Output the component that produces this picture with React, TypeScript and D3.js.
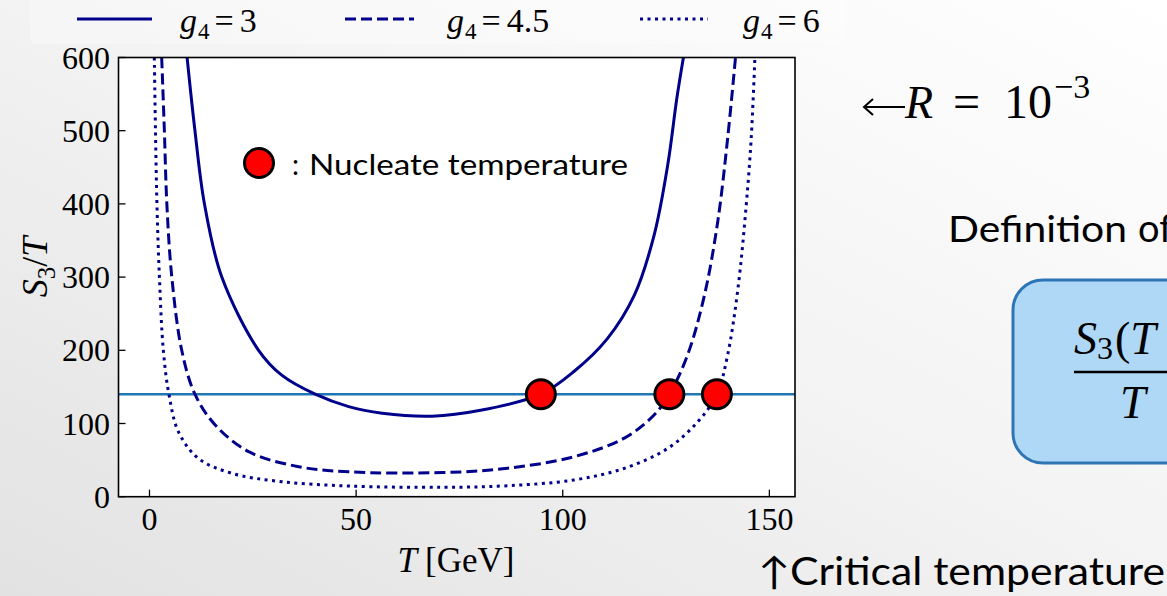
import React from "react";
import * as d3 from "d3";

// S3/T versus temperature for three couplings g4
const T_G3 = [9.1, 11.0, 13.3, 17.5, 26.4, 32.0, 40.1, 48.2, 56.3, 68.4, 80.1, 94.7, 102.7, 110.8, 117.3, 122.1, 125.4, 127.6, 129.2];
const S_G3 = [600, 500, 400, 300, 200, 166, 140, 123, 114, 110, 118, 140, 171, 216, 275, 357, 453, 544, 600];

const T_G45 = [2.95, 3.6, 4.2, 5.4, 7.8, 11.0, 15.9, 24.0, 36.1, 48.2, 71.0, 86.6, 102.7, 114.9, 122.1, 125.8, 130.2, 134.3, 137.5, 139.9, 141.8];
const S_G45 = [600, 500, 400, 300, 200, 140, 98, 61.5, 41, 34, 33, 38.8, 54.6, 80, 111.6, 140, 193.6, 275.5, 375.7, 489.6, 600];

const T_G6 = [1.17, 1.45, 1.8, 2.4, 3.35, 4.7, 7.0, 11.8, 19.9, 32.0, 48.2, 71.0, 86.6, 102.7, 114.9, 125.4, 132.7, 137.3, 139.9, 142.4, 144.4, 145.6, 146.5];
const S_G6 = [600, 500, 400, 300, 200, 140, 88.8, 52.4, 32, 20.5, 14.6, 12.8, 15, 22.8, 38.8, 66, 102.5, 140, 193.6, 284.7, 398.5, 489.6, 600];

// nucleation threshold and the temperatures where each curve meets it
const THRESHOLD = 140;
const NUCLEATE_T = [94.7, 125.8, 137.3];

const X_TICKS = [0, 50, 100, 150];
const Y_TICKS = [0, 100, 200, 300, 400, 500, 600];
const LEGEND_LABELS = ["3", "4.5", "6"];

const W = 1167;
const H = 596;
const plot = { left: 118.5, right: 795, top: 57.5, bottom: 496.7 };

const x = d3.scaleLinear().domain([-7.5, 156.2]).range([plot.left, plot.right]);
const y = d3.scaleLinear().domain([0, 600]).range([plot.bottom, plot.top]);

const NAVY = "#00008b";
const serif = "'Liberation Serif', 'DejaVu Serif', serif";
const sans = "Lato, 'Open Sans', sans-serif";

const series = [
  { t: T_G3, s: S_G3, dash: undefined as string | undefined },
  { t: T_G45, s: S_G45, dash: "11 5" },
  { t: T_G6, s: S_G6, dash: "3 4.5" },
];

const line = d3
  .line<[number, number]>()
  .x((d) => x(d[0]))
  .y((d) => y(d[1]))
  .curve(d3.curveCatmullRom.alpha(0.5));

const legendX = [
  { x0: 77, x1: 152, tx: 180 },
  { x0: 345, x1: 414, tx: 447 },
  { x0: 640, x1: 708, tx: 743 },
];

export default function App() {
  return (
    <svg
      width={W}
      height={H}
      style={{ position: "absolute", left: 0, top: 0, display: "block" }}
    >
      <defs>
        <linearGradient id="bg" x1="0" y1="1" x2="1" y2="0">
          <stop offset="0" stopColor="#e2e2e2" />
          <stop offset="0.55" stopColor="#f4f4f4" />
          <stop offset="1" stopColor="#ffffff" />
        </linearGradient>
        <clipPath id="plotClip">
          <rect x={plot.left} y={plot.top} width={plot.right - plot.left} height={plot.bottom - plot.top} />
        </clipPath>
      </defs>
      <rect x={0} y={0} width={W} height={H} fill="url(#bg)" />

      {/* legend strip */}
      <rect x={30} y={-6} width={815} height={50} rx={6} fill="#ffffff" opacity={0.3} />
      {series.map((sr, i) => (
        <g key={i}>
          <line
            x1={legendX[i].x0}
            x2={legendX[i].x1}
            y1={19}
            y2={19}
            stroke={NAVY}
            strokeWidth={3}
            strokeDasharray={sr.dash}
          />
          <text x={legendX[i].tx} y={32} fontFamily={serif} fontSize={34} fill="#000">
            <tspan fontStyle="italic">g</tspan>
            <tspan fontSize={23} dy={7} dx={1}>4</tspan>
            <tspan dy={-7} dx={5}>=</tspan>
            <tspan dx={6}>{LEGEND_LABELS[i]}</tspan>
          </text>
        </g>
      ))}

      {/* plot area */}
      <rect x={plot.left} y={plot.top} width={plot.right - plot.left} height={plot.bottom - plot.top} fill="#ffffff" />

      <g clipPath="url(#plotClip)">
        <line x1={plot.left} x2={plot.right} y1={y(THRESHOLD)} y2={y(THRESHOLD)} stroke="#1f77b4" strokeWidth={2.6} />
        {series.map((sr, i) => (
          <path
            key={i}
            d={line(sr.t.map((t, j) => [t, sr.s[j]] as [number, number])) || ""}
            fill="none"
            stroke={NAVY}
            strokeWidth={3}
            strokeDasharray={sr.dash}
          />
        ))}
      </g>

      {/* axes frame */}
      <rect
        x={plot.left}
        y={plot.top}
        width={plot.right - plot.left}
        height={plot.bottom - plot.top}
        fill="none"
        stroke="#000"
        strokeWidth={1.6}
      />
      {X_TICKS.map((t) => (
        <g key={t}>
          <line x1={x(t)} x2={x(t)} y1={plot.bottom} y2={plot.bottom - 7} stroke="#000" strokeWidth={1.3} />
          <text x={x(t)} y={530} textAnchor="middle" fontFamily={serif} fontSize={32}>
            {t}
          </text>
        </g>
      ))}
      {Y_TICKS.map((t) => (
        <g key={t}>
          <line x1={plot.left} x2={plot.left + 7} y1={y(t)} y2={y(t)} stroke="#000" strokeWidth={1.3} />
          <text x={110} y={y(t) + 11} textAnchor="end" fontFamily={serif} fontSize={32}>
            {t}
          </text>
        </g>
      ))}

      {/* axis labels */}
      <text x={456} y={572} textAnchor="middle" fontFamily={serif} fontSize={35}>
        <tspan fontStyle="italic">T</tspan>
        <tspan dx={8}>[GeV]</tspan>
      </text>
      <text transform="translate(47,267) rotate(-90)" textAnchor="middle" fontFamily={serif} fontSize={36}>
        <tspan fontStyle="italic">S</tspan>
        <tspan fontSize={25} dy={8}>3</tspan>
        <tspan dy={-8}>/</tspan>
        <tspan fontStyle="italic">T</tspan>
      </text>

      {/* nucleation points */}
      {NUCLEATE_T.map((t) => (
        <circle key={t} cx={x(t)} cy={y(THRESHOLD)} r={14.5} fill="#ff0000" stroke="#000" strokeWidth={3} />
      ))}

      {/* marker key */}
      <circle cx={259} cy={163} r={14.5} fill="#ff0000" stroke="#000" strokeWidth={3} />
      <text x={292} y={175} fontFamily={sans} fontSize={28} fill="#000">:</text>
      <text x={309} y={175} fontFamily={sans} fontSize={28} fill="#000" textLength={319} lengthAdjust="spacingAndGlyphs">
        Nucleate temperature
      </text>

      {/* annotations */}
      <g stroke="#000" strokeWidth={2} fill="none">
        <line x1={864} x2={905} y1={107} y2={107} />
        <path d="M 873 99 L 864 107 L 873 115" />
      </g>
      <text x={905} y={118} fontFamily={serif} fontSize={46} fontStyle="italic">R</text>
      <text x={953} y={118} fontFamily={serif} fontSize={48}>=</text>
      <text x={1004} y={118} fontFamily={serif} fontSize={48}>10</text>
      <text x={1054} y={98} fontFamily={serif} fontSize={34}>−3</text>

      <text x={948} y={242} fontFamily={sans} fontSize={37} textLength={179} lengthAdjust="spacingAndGlyphs">
        Definition
      </text>
      <text x={1138} y={242} fontFamily={sans} fontSize={38}>of</text>

      <rect x={1013} y={280} width={220} height={183} rx={30} fill="#aed8f5" stroke="#2e75b6" strokeWidth={3} />
      <text x={1074} y={354} fontFamily={serif} fontSize={46}>
        <tspan fontStyle="italic">S</tspan>
        <tspan fontSize={32} dy={5}>3</tspan>
        <tspan dy={-5} dx={2}>(</tspan>
        <tspan fontStyle="italic">T</tspan>
      </text>
      <line x1={1074} x2={1180} y1={372} y2={372} stroke="#000" strokeWidth={2.4} />
      <text x={1120} y={418} fontFamily={serif} fontSize={46} fontStyle="italic">T</text>

      <text x={758} y={585} fontFamily={sans} fontSize={38} textLength={407} lengthAdjust="spacingAndGlyphs">
        ↑Critical temperature
      </text>
    </svg>
  );
}
